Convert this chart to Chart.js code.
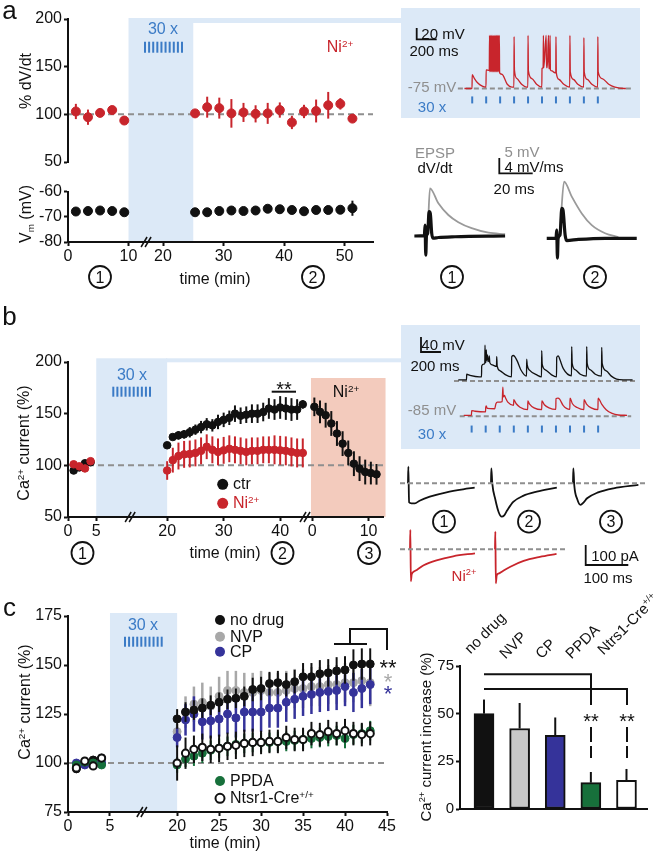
<!DOCTYPE html>
<html>
<head>
<meta charset="utf-8">
<title>Ca2+ current potentiation</title>
<script src="https://cdn.jsdelivr.net/npm/chart.js@4.4.1/dist/chart.umd.min.js"></script>
<style>
  body { margin: 0; background: #fff; }
  #fig { position: relative; width: 660px; height: 858px; overflow: hidden;
         font-family: "Liberation Sans", Arial, Helvetica, sans-serif; color: #111; }
  #fig canvas { position: absolute; }
  .t { position: absolute; transform: translate(-50%, -50%); white-space: nowrap;
       font-size: 16px; line-height: 1; z-index: 3; }
  .l { transform: translate(0, -50%); }
  .r { transform: translate(-50%, -50%) rotate(-90deg); }
  .cat { transform: rotate(-45deg); transform-origin: 0 100%; }
  .s { font-size: 0.62em; vertical-align: 0.6em; }
  .sub { font-size: 0.62em; vertical-align: -0.3em; }
</style>
</head>
<body>
<div id="fig"></div>
<script>
// ---------- panel a : dV/dt and Vm ----------
const aTime    = [1.3, 3.3, 5.3, 7.3, 9.3, 25.3, 27.3, 29.3, 31.3, 33.3, 35.3, 37.3, 39.3, 41.3, 43.3, 45.3, 47.3, 49.3, 51.3];
const aDvdt    = [103, 97, 101.5, 104.5, 93.5, 101, 107.5, 106.5, 101, 102, 100.5, 101, 104.5, 91.5, 103, 103.5, 109.5, 111, 95.5];
const aDvdtSem = [8, 8, 4, 3, 2, 3, 11, 11, 15, 10, 9, 11, 8, 7, 7, 12, 14, 6, 3];
const aVm      = [-67.9, -67.7, -67.5, -67.7, -68.2, -68.2, -68.2, -67.7, -67.5, -67.7, -67.5, -66.8, -67, -67.3, -67.8, -67.3, -67.3, -67.2, -66.6];
const aVmSem   = [0.5, 0.5, 0.5, 0.5, 0.5, 0.5, 0.5, 0.5, 0.6, 0.5, 0.6, 0.6, 0.6, 0.5, 0.5, 0.6, 0.7, 0.7, 3];
const aTicks   = [0, 10, 20, 30, 40, 50];

// inset a: train response (ms, mV) and stimulus times (ms)
const aTrain = [[0,-75],[81,-75],[83,-46],[107,-54],[140,-63],[190,-70],[230,-72],
  [232,-36],[265,-37],[268,37],[272,-40],[280,37],[284,-40],[292,37],[296,-40],[304,37],[308,-40],
  [316,37],[320,-40],[328,37],[332,-40],[340,37],[344,-40],[352,37],[356,-40],[364,37],[368,-40],[372,37],[376,-42],
  [400,-45],[457,-66],[507,-72],[528,-72],
  [530,34],[534,-36],[560,-54],[610,-66],[665,-72],[677,-72],
  [679,37],[683,-38],[720,-54],[770,-66],[826,-72],
  [828,-33],[840,-31],[843,37],[847,-31],[872,37],[876,-31],[884,-31],[897,37],[901,-33],[911,-33],[914,37],[918,-36],
  [935,-38],[957,-41],[975,-42],
  [977,34],[981,-42],[1010,-56],[1060,-66],[1124,-72],
  [1126,37],[1130,-40],[1165,-56],[1210,-66],[1273,-72],
  [1275,32],[1279,-40],[1312,-56],[1360,-66],[1422,-72],
  [1424,34],[1428,-40],[1470,-54],[1540,-66],[1607,-72],[1707,-75],[1723,-75]];
const aStim = [83, 232, 381, 530, 679, 828, 977, 1126, 1275, 1424];

// EPSP (mV) and dV/dt (mV/ms) at time points 1 and 2
const epsp1 = [[6.6,0],[7.6,2],[8.9,15.9],[13.7,10.9],[19.4,7.0],[25.1,4.6],[32.7,2.6],[42.3,1.1],[51.8,0.6]];
const dvdt1 = [[0,0],[5.7,0.1],[6.1,2.9],[6.5,-5.1],[6.9,0],[7.6,0.7],[8.4,6.5],[9.1,6.0],[9.9,0.7],[10.7,-0.6],[13.7,-0.4],[23.2,-0.2],[51.8,0]];
const epsp2 = [[6.8,0],[7.6,3],[9.9,18.9],[14.3,13.9],[20,8.3],[25.7,4.4],[33.3,1.7],[40.9,0.4]];
const dvdt2 = [[0,0],[5.3,0],[5.7,2.2],[6.1,-5.3],[6.5,0],[7.6,0.9],[8.6,8],[9.3,7.5],[10.5,0.9],[11.4,-0.6],[18.1,-0.3],[33.3,0],[51.4,0]];

// ---------- panel b : Ca2+ current ----------
const bTime    = [1, 2, 3, 4, 20, 21, 22, 23, 24, 25, 26, 27, 28, 29, 30, 31, 32, 33, 34, 35, 36, 37, 38, 39, 40, 41, 42, 43, 44];
const bCtr     = [95, 98, 102, 103, 119.4, 127.4, 129, 130, 132, 134.5, 137, 139.7, 138.7, 142, 144, 146, 150, 148, 149, 150, 150, 151.6, 155, 154, 156, 155, 154, 154, 159];
const bCtrSem  = [2, 2, 2, 2, 3, 3, 4, 4, 5, 5, 6, 6, 6, 7, 7, 7, 8, 8, 8, 9, 9, 9, 10, 10, 11, 11, 11, 10, 4];
const bNi      = [101, 99, 97, 104, 95, 105, 109, 110.6, 111, 112, 114, 118, 115, 113, 114.5, 116, 115, 114, 113, 114, 114, 115, 115, 115, 114.5, 114, 113, 112, 112];
const bNiSem   = [2, 2, 2, 2, 9, 12, 13, 13, 13, 13, 13, 12, 13, 13, 13, 13, 13, 13, 13, 13, 13, 13, 13, 14, 14, 14, 14, 14, 14];
const bWashTime = [0.4, 1.4, 2.4, 3.4, 4.4, 5.4, 6.4, 7.4, 8.4, 9.4, 10.4, 11.4];
const bWash     = [156.6, 151.8, 148.5, 140.5, 130.8, 121, 112, 101.6, 96.8, 93.5, 92.5, 91.3];
const bWashSem  = [9, 11, 12, 12, 12, 12, 12, 12, 12, 12, 11, 10];
const bTicks     = [0, 5, 20, 30, 40];
const bWashTicks = [0, 10];

// inset b: train responses (ms, mV), ctr and Ni2+
const bTrainCtr = [[0,-82],[82,-82],[84,-67],[117,-70],[210,-74],[232,-74],
  [234,-45],[255,-40],[265,-38],[267,11],[271,-33],[277,-35],[280,-2],[284,-30],[292,-15],[297,-33],[305,-30],[310,-18],[315,-36],[340,-42],[382,-46],
  [384,-20],[389,-45],[420,-58],[470,-68],[532,-74],
  [534,-20],[548,-17],[565,-20],[590,-32],[625,-55],[682,-72],
  [684,-27],[689,-42],[720,-58],[780,-68],[832,-74],
  [834,-4],[839,-40],[875,-56],[930,-68],[982,-74],
  [984,-22],[1000,-18],[1015,-27],[1050,-52],[1132,-71],
  [1134,7],[1139,-38],[1170,-55],[1220,-67],[1282,-72],
  [1284,7],[1289,-38],[1320,-55],[1370,-67],[1432,-72],
  [1434,5],[1439,-38],[1480,-58],[1530,-72],[1583,-80],[1650,-82],[1743,-82]];
const bTrainNi = [[0,-82],[82,-82],[84,-67],[120,-69],[232,-71],
  [234,-57],[240,-52],[250,-60],[330,-61],[343,-45],[360,-40],[410,-38],[417,8],[422,-23],[435,-18],[440,-22],[447,-27],[470,-40],[532,-50],
  [534,-32],[560,-45],[600,-56],[682,-64],
  [684,-36],[700,-45],[750,-58],[832,-64],
  [834,-36],[860,-48],[910,-58],[982,-63],
  [984,-28],[1005,-27],[1025,-31],[1060,-50],[1132,-63],
  [1134,-27],[1160,-45],[1210,-57],[1282,-64],
  [1284,-32],[1310,-46],[1360,-58],[1432,-64],
  [1434,-27],[1470,-45],[1520,-64],[1583,-76],[1650,-81],[1743,-82]];
const bStim = [84, 234, 384, 534, 684, 834, 984, 1134, 1284, 1434];

// Ca2+ currents (ms, pA) at time points 1, 2, 3
const iCtr1 = [[0,0],[0.8,83],[2.5,-95],[8,-100],[16,-100],[27,-87],[51,-67],[90,-45],[129,-30],[156,-22]];
const iCtr2 = [[0,0],[0.8,75],[3,0],[10,-80],[18,-145],[25,-167],[31,-160],[38,-135],[52,-93],[75,-63],[107,-42],[154,-22]];
const iCtr3 = [[0,0],[0.8,75],[3,-10],[10,-80],[17.5,-108],[25,-95],[33,-75],[57,-47],[95,-25],[153,-8]];
const iNi1  = [[0,0],[0.8,97],[2,-160],[4,-125],[10,-110],[16,-103],[32,-80],[62,-55],[101,-35],[152,-20]];
const iNi2  = [[0,0],[0.8,88],[2,-170],[4,-130],[10,-120],[16,-112],[36,-87],[67,-58],[105,-38],[144,-23]];

// ---------- panel c : drugs ----------
const cTime = [1, 2, 3, 4, 20, 21, 22, 23, 24, 25, 26, 27, 28, 29, 30, 31, 32, 33, 34, 35, 36, 37, 38, 39, 40, 41, 42, 43];
const cNoDrug    = [97, 100.5, 101.5, 102.5, 122.5, 126, 127, 128, 129.5, 131, 132.5, 133, 134, 137.5, 138, 140.5, 141, 140, 141.5, 144, 144, 145.5, 146, 147, 147.5, 150, 150.5, 150.5];
const cNoDrugSem = [2, 2, 2, 2, 5, 5, 5, 5, 5, 5, 5, 5, 5, 6, 6, 6, 6, 6, 6, 7, 7, 7, 7, 7, 7, 8, 8, 8];
const cNvp       = [98, 100, 101.5, 101, 116, 126, 130, 131, 129, 134, 137, 137, 136, 136, 137, 136, 136, 137, 138, 138, 139, 139, 140, 140, 141, 141, 142, 141];
const cNvpSem    = [2, 2, 2, 2, 4, 8, 9, 10, 10, 10, 10, 10, 10, 10, 10, 10, 10, 10, 10, 10, 10, 10, 10, 10, 10, 10, 10, 12];
const cCp        = [100, 99, 100.5, 100, 113, 122, 125, 121, 121.5, 122.5, 125, 123, 126, 126, 126, 128, 128, 131, 132.5, 134, 135, 136, 136.5, 137, 139, 136, 138, 140];
const cCpSem     = [1, 1, 1, 1, 5, 8, 9, 9, 9, 9, 10, 10, 10, 10, 10, 10, 10, 10, 10, 10, 10, 10, 10, 10, 10, 10, 10, 10];
const cPpda      = [99, 100.5, 100, 99, 99, 102, 103.5, 105, 106.5, 107.5, 108.5, 109.5, 110, 110.5, 110.5, 110.5, 111, 111, 111.5, 112, 112.5, 113, 113.5, 114, 112.5, 114.5, 115, 116.5];
const cPpdaSem   = [1, 1, 1, 1, 4, 4, 5, 5, 5, 5, 5, 5, 5, 5, 5, 5, 5, 5, 5, 5, 5, 5, 5, 5, 5, 5, 5, 5];
const cNtsr      = [97.5, 101, 98.5, 102.5, 100, 105, 107, 108, 107, 107.5, 108.5, 109, 110, 110.5, 110.5, 111, 111, 113, 112, 112, 115, 114.5, 116, 115, 116.5, 115, 114.5, 115];
const cNtsrSem   = [2, 2, 2, 2, 9, 8, 7, 7, 7, 7, 7, 7, 7, 7, 6, 6, 6, 6, 6, 6, 6, 6, 6, 6, 6, 6, 6, 6];
const cTicks = [0, 5, 20, 25, 30, 35, 40, 45];

// bar summary
const barCats = ['no drug', 'NVP', 'CP', 'PPDA', 'Ntrs1-Cre<span class="s">+/+</span>'];
const barVals = [50, 42.2, 38.7, 13.8, 15];
const barSems = [7.4, 13.4, 9.3, 5.6, 6];

// ---------- styles ----------
const FONT = '"Liberation Sans", Arial, Helvetica, sans-serif';
const BLK = '#111', RED = '#c8252c', GRAY = '#8f8f8f', BLUE = '#3b7bc6';
const NVPC = '#a8a8a8', CPC = '#35339a', PPC = '#17703b';
const BAND = '#dce9f7', PINK = '#f3cbbd';
Chart.defaults.font.family = FONT;

// broken time axes: time -> axis position
const aDisp = t => t <= 15 ? t : t - 4.3;
const bDisp = t => t <= 15 ? t : t - 2.45;
const bWashDisp = t => t + 43.2;
const cDisp = t => t <= 15 ? t : t - 7;

const fig = document.getElementById('fig');
function canvasAt(left, top, w, h, z) {
  const c = document.createElement('canvas');
  c.width = w; c.height = h;
  c.style.cssText = `left:${left}px;top:${top}px;width:${w}px;height:${h}px;z-index:${z === undefined ? 1 : z}`;
  fig.appendChild(c);
  return c;
}
function label(x, y, html, css, cls) {
  const d = document.createElement('div');
  d.className = 't' + (cls ? ' ' + cls : '');
  d.innerHTML = html;
  d.style.left = x + 'px'; d.style.top = y + 'px';
  if (css) d.style.cssText += css;
  fig.appendChild(d);
}

// bands, dashed 100% line, error bars, axis breaks
const deco = {
  id: 'deco',
  beforeDraw(chart, args, o) {
    const { ctx, chartArea, scales } = chart;
    ctx.save();
    (o.bands || []).forEach(b => {
      const x0 = scales.x.getPixelForValue(b.from), x1 = scales.x.getPixelForValue(b.to);
      const y1 = b.bottom !== undefined ? b.bottom : chartArea.bottom;
      ctx.fillStyle = b.color;
      ctx.fillRect(x0, b.top, x1 - x0, y1 - b.top);
    });
    if (o.refY !== undefined) {
      const yy = scales.y.getPixelForValue(o.refY);
      ctx.strokeStyle = GRAY; ctx.lineWidth = 2; ctx.setLineDash([6, 4]);
      ctx.beginPath(); ctx.moveTo(chartArea.left, yy); ctx.lineTo(chartArea.right, yy); ctx.stroke();
    }
    ctx.restore();
  },
  beforeDatasetDraw(chart, args) {
    const ds = chart.data.datasets[args.index];
    if (!ds.errs) return;
    const ys = chart.scales[args.meta.yAxisID], ctx = chart.ctx;
    ctx.save();
    ctx.strokeStyle = ds.errColor; ctx.lineWidth = ds.errWidth || 2;
    args.meta.data.forEach((p, i) => {
      const v = ds.data[i].y, e = ds.errs[i];
      ctx.beginPath();
      ctx.moveTo(p.x, ys.getPixelForValue(ds.errUp ? v : v - e));
      ctx.lineTo(p.x, ys.getPixelForValue(v + e));
      ctx.stroke();
    });
    ctx.restore();
  },
  afterDraw(chart, args, o) {
    if (!o.breaks) return;
    const { ctx, chartArea, scales } = chart;
    ctx.save(); ctx.strokeStyle = BLK; ctx.lineWidth = 1.5;
    o.breaks.forEach(v => {
      const px = scales.x.getPixelForValue(v), py = chartArea.bottom;
      [-2, 2].forEach(d => {
        ctx.beginPath(); ctx.moveTo(px + d - 3, py + 5); ctx.lineTo(px + d + 3, py - 5); ctx.stroke();
      });
    });
    ctx.restore();
  }
};

function yAxis(min, max, step, width, size) {
  return {
    type: 'linear', min, max, position: 'left',
    ticks: { stepSize: step, color: BLK, font: { size: size || 16 }, padding: 2 },
    grid: { drawOnChartArea: false, tickLength: 4, tickWidth: 2, tickColor: BLK },
    border: { color: BLK, width: 2 },
    afterFit: s => { s.width = width; }
  };
}
function xAxis(min, max, pos, labels, height) {
  return {
    type: 'linear', min, max,
    afterBuildTicks: s => { s.ticks = pos.map(v => ({ value: v })); },
    ticks: { autoSkip: false, maxRotation: 0, color: BLK, font: { size: 16 }, padding: 1,
             callback: (v, i) => String(labels[i]) },
    grid: { drawOnChartArea: false, tickLength: 4, tickWidth: 2, tickColor: BLK },
    border: { color: BLK, width: 2 },
    afterFit: s => { s.height = height; }
  };
}
function opts(padding, scales, d) {
  return { responsive: false, animation: false, events: [], layout: { padding },
           plugins: { legend: { display: false }, tooltip: { enabled: false }, deco: d || {} }, scales };
}
const pts = (times, vals, disp) => times.map((t, i) => ({ x: disp(t), y: vals[i] }));
function dots(data, errs, color, r, extra) {
  return Object.assign({ data, errs, errColor: color, errWidth: 2, pointRadius: r,
    pointBackgroundColor: color, pointBorderColor: color, pointBorderWidth: 1 }, extra || {});
}

// ---------- panel a charts ----------
new Chart(canvasAt(0, 0, 390, 242), {
  type: 'scatter',
  data: { datasets: [dots(pts(aTime, aDvdt, aDisp), aDvdtSem, RED, 4.5)] },
  options: opts({ top: 19, right: 17, bottom: 80, left: 0 },
    { x: { type: 'linear', display: false, min: 0, max: 50.4 }, y: yAxis(50, 200, 50, 68) },
    { bands: [{ from: aDisp(10), to: aDisp(25), top: 18, bottom: 242, color: BAND }], refY: 100 }),
  plugins: [deco]
});
new Chart(canvasAt(0, 180, 390, 110), {
  type: 'scatter',
  data: { datasets: [dots(pts(aTime, aVm, aDisp), aVmSem, BLK, 4.5)] },
  options: opts({ top: 10, right: 17, bottom: 0, left: 0 },
    { x: xAxis(0, 50.4, aTicks.map(aDisp), aTicks, 48), y: yAxis(-80, -60, 10, 68) },
    { breaks: [12.9] }),
  plugins: [deco]
});

// trace charts (no axes, data units mapped by hidden scales)
const xy = a => a.map(p => ({ x: p[0], y: p[1] }));
function trace(left, top, w, h, xr, yr, sets, y2r) {
  const scales = { x: { type: 'linear', display: false, min: xr[0], max: xr[1] },
                   y: { type: 'linear', display: false, min: yr[0], max: yr[1] } };
  if (y2r) scales.y2 = { type: 'linear', display: false, min: y2r[0], max: y2r[1] };
  new Chart(canvasAt(left, top, w, h), {
    type: 'scatter',
    data: { datasets: sets.map(s => Object.assign({ showLine: true, pointRadius: 0, borderWidth: 1.3,
      cubicInterpolationMode: 'monotone', clip: false }, s)) },
    options: { responsive: false, animation: false, events: [], layout: { padding: 0 },
               plugins: { legend: { display: false }, tooltip: { enabled: false } }, scales }
  });
}
const stimSet = (times, y) => ({ data: times.map(t => ({ x: t, y })), showLine: false, pointStyle: 'line',
  pointRotation: 90, pointRadius: 3.5, pointBorderWidth: 2, pointBorderColor: BLUE });
const baseSet = (x0, x1, y) => ({ data: [{ x: x0, y }, { x: x1, y }], borderColor: GRAY, borderWidth: 2,
  borderDash: [5, 3], cubicInterpolationMode: 'default', tension: 0 });

trace(450, 25, 190, 87, [-90, 1810], [-111.8, 46.1], [
  { data: xy(aTrain), borderColor: RED },
  stimSet(aStim, -99),
  baseSet(-70, 1780, -75)
]);
trace(410, 178, 100, 82, [-2.5, 54.6], [-8, 19.33], [
  { data: xy(dvdt1), borderColor: BLK, borderWidth: 3.2, yAxisID: 'y2' },
  { data: xy(epsp1), borderColor: '#9a9a9a', borderWidth: 1.8 }
], [-6.4, 15.47]);
trace(542, 175, 100, 85, [-2.7, 54.4], [-7.23, 21.1], [
  { data: xy(dvdt2), borderColor: BLK, borderWidth: 3.2, yAxisID: 'y2' },
  { data: xy(epsp2), borderColor: '#9a9a9a', borderWidth: 1.8 }
], [-5.79, 16.9]);

// ---------- panel b charts ----------
const bPos = bTicks.map(bDisp).concat(bWashTicks.map(bWashDisp));
new Chart(canvasAt(0, 300, 390, 250), {
  type: 'scatter',
  data: { datasets: [
    dots(pts(bTime, bNi, bDisp), bNiSem, RED, 3.8),
    dots(pts(bTime, bCtr, bDisp), bCtrSem, BLK, 3.8),
    dots(pts(bWashTime, bWash, bWashDisp), bWashSem, BLK, 3.8)
  ] },
  options: opts({ top: 62, right: 7, bottom: 0, left: 0 },
    { x: xAxis(0, 55.75, bPos, bTicks.concat(bWashTicks), 33), y: yAxis(50, 200, 50, 68) },
    { bands: [{ from: bDisp(5), to: bDisp(20), top: 58.3, color: BAND },
              { from: bWashDisp(-0.2), to: bWashDisp(13), top: 78, color: PINK }],
      refY: 100, breaks: [11, 41.95] }),
  plugins: [deco]
});
trace(450, 335, 190, 50, [-83, 1817], [-95.7, 37.8], [
  { data: xy(bTrainCtr), borderColor: BLK },
  baseSet(-43, 1787, -85)
]);
trace(450, 370, 190, 72, [-83, 1817], [-148.3, 44], [
  { data: xy(bTrainNi), borderColor: RED },
  stimSet(bStim, -126),
  baseSet(-43, 1787, -85)
]);
[[408.3, iCtr1, BLK, 458, 62, [-183.5, 126.5]], [491, iCtr2, BLK, 458, 62, [-183.5, 126.5]],
 [572.7, iCtr3, BLK, 458, 62, [-183.5, 126.5]], [410, iNi1, RED, 524, 66, [-203.5, 126.5]],
 [495, iNi2, RED, 524, 66, [-203.5, 126.5]]].forEach(([x0, d, col, top, h, yr]) => {
  trace(x0 - 4, top, 82, h, [-9.36, 182.5], yr, [{ data: xy(d), borderColor: col, borderWidth: 1.8 }]);
});

// ---------- panel c charts ----------
new Chart(canvasAt(0, 595, 400, 250), {
  type: 'scatter',
  data: { datasets: [
    dots(pts(cTime, cNtsr, cDisp), cNtsrSem, BLK, 3.6, { pointBackgroundColor: '#fff', pointBorderWidth: 2 }),
    dots(pts(cTime, cPpda, cDisp), cPpdaSem, PPC, 4),
    dots(pts(cTime, cNoDrug, cDisp), cNoDrugSem, BLK, 4),
    dots(pts(cTime, cCp, cDisp), cCpSem, CPC, 4, { errWidth: 2.5 }),
    dots(pts(cTime, cNvp, cDisp), cNvpSem, NVPC, 4, { errWidth: 2.5 })
  ] },
  options: opts({ top: 21, right: 13, bottom: 0, left: 0 },
    { x: xAxis(0, 38, cTicks.map(cDisp), cTicks, 33), y: yAxis(75, 175, 25, 68) },
    { bands: [{ from: 5, to: cDisp(20), top: 18, color: BAND }], refY: 100, breaks: [8.8] }),
  plugins: [deco]
});
new Chart(canvasAt(400, 650, 260, 170), {
  type: 'bar',
  data: { datasets: [{
    data: barVals.map((v, i) => ({ x: i, y: v })),
    backgroundColor: [BLK, '#c8c8c8', CPC, PPC, '#fff'],
    borderColor: BLK, borderWidth: 2, borderSkipped: false, barThickness: 20,
    errs: barSems, errUp: true, errColor: BLK, errWidth: 2
  }] },
  options: opts({ top: 16, right: 13, bottom: 0, left: 0 }, {
    x: { type: 'linear', min: -0.674, max: 4.576, offset: false, ticks: { display: false },
         grid: { display: false }, border: { color: BLK, width: 2 }, afterFit: s => { s.height = 9.3; } },
    y: yAxis(0, 75, 25, 60, 15)
  }),
  plugins: [deco]
});

// ---------- under layer: inset boxes and connectors ----------
const un = canvasAt(0, 0, 660, 858, 0).getContext('2d');
un.fillStyle = BAND;
un.fillRect(401, 8, 239, 110);
un.fillRect(192, 18, 210, 5);
un.fillRect(401, 325, 239, 124);
un.fillRect(166, 358.3, 236, 4);

// ---------- over layer: scale bars, brackets, legend marks ----------
const ov = canvasAt(0, 0, 660, 858, 2).getContext('2d');
function seg(p, w, col, dash) {
  ov.save(); ov.strokeStyle = col || BLK; ov.lineWidth = w || 2; ov.setLineDash(dash || []);
  ov.beginPath(); p.forEach((q, i) => i ? ov.lineTo(q[0], q[1]) : ov.moveTo(q[0], q[1])); ov.stroke();
  ov.restore();
}
function ring(x, y) { ov.save(); ov.strokeStyle = BLK; ov.lineWidth = 1.8; ov.beginPath(); ov.arc(x, y, 11, 0, 2 * Math.PI); ov.stroke(); ov.restore(); }
function mark(x, y, r, fill, stroke) {
  ov.save(); ov.fillStyle = fill; ov.beginPath(); ov.arc(x, y, r, 0, 2 * Math.PI); ov.fill();
  if (stroke) { ov.strokeStyle = stroke; ov.lineWidth = 2; ov.stroke(); }
  ov.restore();
}
function barcode(x0, x1, y0, y1) { for (let i = 0; i < 10; i++) { const x = x0 + (x1 - x0) * i / 9; seg([[x, y0], [x, y1]], 2, BLUE); } }

barcode(145, 182, 41.7, 52.7);
barcode(113.3, 150, 386.7, 396.7);
barcode(125, 161.7, 636.7, 646.7);
seg([[416.7, 28], [416.7, 39.3], [436.7, 39.3]], 1.8);
seg([[499.3, 158], [499.3, 173.3], [532.7, 173.3]], 1.8);
seg([[421, 337], [421, 352], [441, 352]], 1.8);
seg([[585.7, 545], [585.7, 565], [628.3, 565]], 1.8);
seg([[400, 483.3], [647, 483.3]], 2, GRAY, [5, 3]);
seg([[400, 549.3], [565, 549.3]], 2, GRAY, [5, 3]);
seg([[271.7, 391.7], [296, 391.7]], 2);
seg([[334, 644], [367, 644]], 2);
seg([[350, 644], [350, 629], [387, 629], [387, 650]], 2);
seg([[484, 674.3], [591, 674.3], [591, 705]], 2);
seg([[484, 689], [627, 689], [627, 705]], 2);
seg([[591, 727], [591, 758]], 2, BLK, [15, 4]);
seg([[627, 727], [627, 758]], 2, BLK, [15, 4]);
// circled time-point numbers
const rings = [[100, 277, 1], [313, 277, 2], [452, 277, 1], [595, 277, 2], [82.5, 553, 1], [282.5, 553, 2],
  [369, 553, 3], [444, 521.7, 1], [529, 521.7, 2], [611, 521.7, 3]];
rings.forEach(p => ring(p[0], p[1]));
mark(222.7, 484.3, 5.5, BLK); mark(222.7, 503.3, 5.5, RED);
mark(220, 620, 5, BLK); mark(220, 636.7, 5, NVPC); mark(220, 651.7, 5, CPC);
mark(220, 781, 5, PPC); mark(220, 798.3, 4.5, '#fff', BLK);

// ---------- text ----------
const sup = s => `<span class="s">${s}</span>`;
rings.forEach(p => label(p[0], p[1] + 0.5, String(p[2])));
label(9.5, 10, 'a', 'font-size:26px');
label(9.5, 316, 'b', 'font-size:26px');
label(9.5, 607, 'c', 'font-size:26px');

label(163, 29, '30 x', `color:${BLUE}`);
label(340, 47, 'Ni' + sup('2+'), `color:${RED}`);
label(26, 81, '% dV/dt', '', 'r');
label(27, 214, 'V<span class="sub">m</span> (mV)', '', 'r');
label(215, 279, 'time (min)');
label(443, 33, '20 mV', 'font-size:15px');
label(434, 50, '200 ms', 'font-size:15px');
label(432, 86, '-75 mV', `font-size:15px;color:${GRAY}`);
label(432, 106, '30 x', `font-size:15px;color:${BLUE}`);
label(435, 152, 'EPSP', `font-size:15px;color:${GRAY}`);
label(435, 167, 'dV/dt', 'font-size:15px');
label(522, 151, '5 mV', `font-size:15px;color:${GRAY}`);
label(534, 166, '4 mV/ms', 'font-size:15px');
label(514, 188, '20 ms', 'font-size:15px');

label(132, 375, '30 x', `color:${BLUE}`);
label(284, 389, '**', 'font-size:20px');
label(346, 392, 'Ni' + sup('2+'));
label(233, 484.3, 'ctr', '', 'l');
label(233, 503.3, 'Ni' + sup('2+'), `color:${RED}`, 'l');
label(24, 443, 'Ca' + sup('2+') + ' current (%)', '', 'r');
label(225, 553, 'time (min)');
label(443, 344, '40 mV', 'font-size:15px');
label(435, 365, '200 ms', 'font-size:15px');
label(432, 409, '-85 mV', `font-size:15px;color:${GRAY}`);
label(432, 433, '30 x', `font-size:15px;color:${BLUE}`);
label(464, 575, 'Ni' + sup('2+'), `font-size:15px;color:${RED}`);
label(615, 555, '100 pA', 'font-size:15px');
label(608, 577, '100 ms', 'font-size:15px');

label(143, 625, '30 x', `color:${BLUE}`);
label(230, 620, 'no drug', '', 'l');
label(230, 636.7, 'NVP', '', 'l');
label(230, 651.7, 'CP', '', 'l');
label(230, 781, 'PPDA', '', 'l');
label(230, 798.3, 'Ntsr1-Cre' + sup('+/+'), '', 'l');
label(388, 668, '**', 'font-size:22px');
label(388, 682, '*', `font-size:22px;color:${NVPC}`);
label(388, 694, '*', `font-size:22px;color:${CPC}`);
label(25, 702, 'Ca' + sup('2+') + ' current (%)', '', 'r');
label(225, 843, 'time (min)');
label(425, 737, 'Ca' + sup('2+') + ' current increase (%)', 'font-size:15px', 'r');
[[471.7, 657], [506.7, 662], [543.3, 662], [573.3, 662], [605, 658]].forEach((p, i) => {
  label(p[0], p[1] - 16, barCats[i], 'font-size:15px', 'cat');
});
label(591, 721, '**', 'font-size:20px');
label(627, 721, '**', 'font-size:20px');
</script>
</body>
</html>
